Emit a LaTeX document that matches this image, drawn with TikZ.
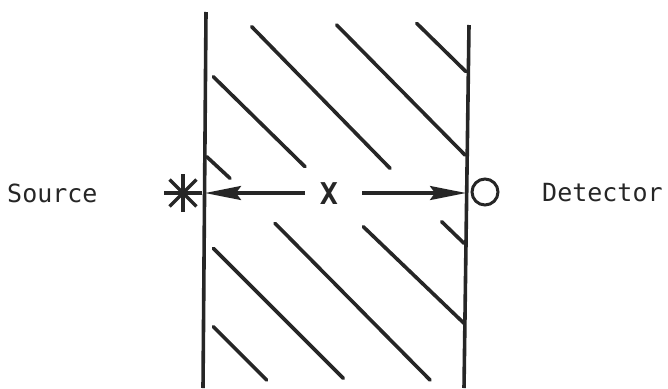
\documentclass[tikz,border=0pt]{standalone}
\usepackage{fontspec}
\setmonofont{DejaVu Sans Mono}
\usetikzlibrary{arrows.meta}
\begin{document}
\begin{tikzpicture}[x=1pt,y=-1pt,
  wall/.style={line width=3.6pt, draw=black!85},
  hatch/.style={line width=3.6pt, draw=black!85, line cap=round},
  arr/.style={line width=3.4pt, draw=black!85, -{Stealth[length=36pt,width=14pt,inset=5pt]}},
  lbl/.style={font=\ttfamily\fontsize{25}{25}\selectfont, text=black!85, inner sep=0pt}]
\useasboundingbox (0,0) rectangle (668,388);
% walls
\draw[wall] (206,12) -- (203,388);
\draw[wall] (469,25) -- (464,388);
% hatching
\draw[hatch] (251.7,26.7) -- (390,168.3);
\draw[hatch] (336.7,25) -- (465,155);
\draw[hatch] (416.7,23.3) -- (466,71.7);
\draw[hatch] (213.3,76.7) -- (305,166.7);
\draw[hatch] (206.7,156.7) -- (230,178.3);
\draw[hatch] (275,223.3) -- (430,380);
\draw[hatch] (213.3,248.3) -- (343.3,378.3);
\draw[hatch] (363.3,226.7) -- (464,323.3);
\draw[hatch] (441.7,221.7) -- (464,243.3);
\draw[hatch] (213.3,326.7) -- (266.7,380);
% labels
\node[lbl, anchor=west] (src) at (7,193) {Source};
\node[lbl, anchor=west] (det) at (542,193) {Detector};
\node[font=\ttfamily\bfseries\fontsize{30}{30}\selectfont, text=black!85, inner sep=0pt] (xl) at (329,194) {X};
% source star
\node[circle, fill=black!85, minimum size=10pt, inner sep=0pt] (star) at (183,193) {};
\foreach \a in {0,45,90,135}{
  \draw[line width=3.4pt, draw=black!85] ([shift={(\a:19)}]star.center) -- ([shift={(\a+180:19)}]star.center);
}
% detector circle
\node[circle, draw=black!85, line width=3pt, minimum size=26pt, inner sep=0pt] (dc) at (485,192) {};
% arrows
\coordinate (wl) at (205,193);
\coordinate (wr) at (466,193);
\coordinate (al) at (305,193);
\coordinate (ar) at (362,193);
\draw[arr] (al) -- (wl);
\draw[arr] (ar) -- (wr);
\end{tikzpicture}
\end{document}
